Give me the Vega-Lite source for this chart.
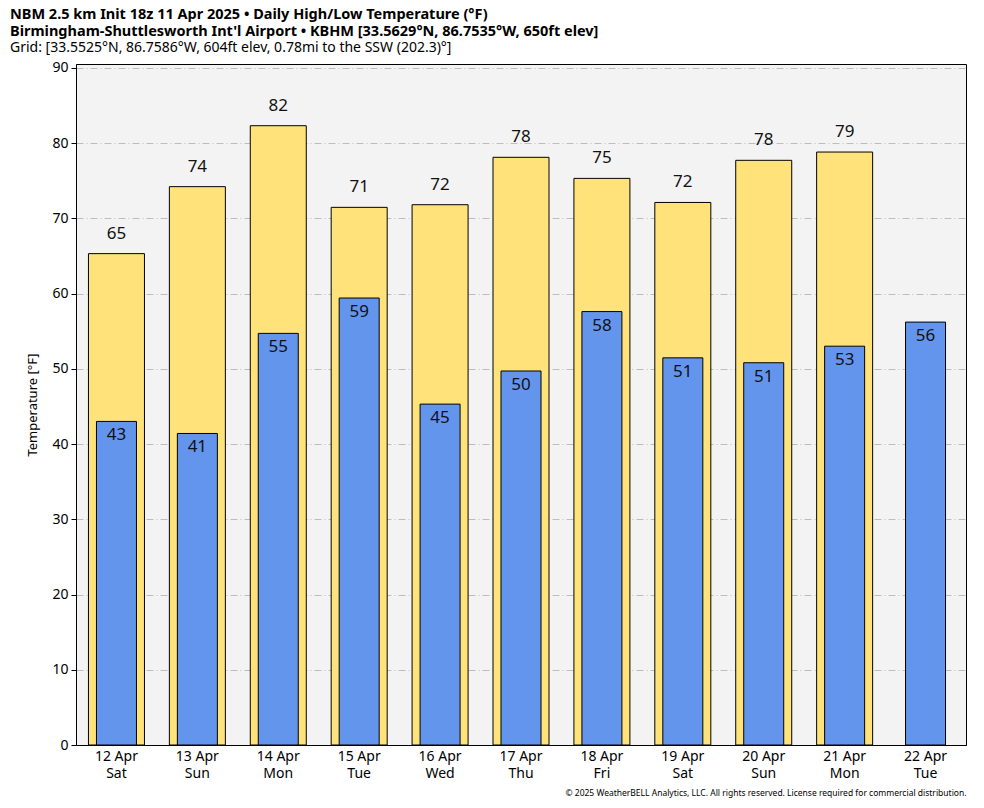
{
  "$schema": "https://vega.github.io/schema/vega-lite/v6.json",
  "autosize": {"type": "none"},
  "padding": {"left": 76, "top": 64, "right": 18, "bottom": 63},
  "width": 890,
  "height": 681,
  "background": "white",
  "title": {
    "text": ["NBM 2.5 km Init 18z 11 Apr 2025 • Daily High/Low Temperature (°F)", "Birmingham-Shuttlesworth Int'l Airport • KBHM [33.5629°N, 86.7535°W, 650ft elev]"],
    "subtitle": "Grid: [33.5525°N, 86.7586°W, 604ft elev, 0.78mi to the SSW (202.3)°]",
    "anchor": "start",
    "frame": "group",
    "dx": -66,
    "offset": 5,
    "font": "Noto Sans",
    "fontSize": 14.5,
    "fontWeight": "bold",
    "lineHeight": 17.5,
    "color": "black",
    "subtitleFont": "Noto Sans",
    "subtitleFontSize": 14,
    "subtitleColor": "black",
    "subtitleLineHeight": 17,
    "subtitlePadding": 1
  },
  "config": {
    "view": {"fill": "#f3f3f3", "stroke": "black", "strokeWidth": 1},
    "font": "Noto Sans"
  },
  "data": {
    "values": [
      {"date": "12 Apr|Sat", "high": 65.3, "low": 43.0},
      {"date": "13 Apr|Sun", "high": 74.2, "low": 41.4},
      {"date": "14 Apr|Mon", "high": 82.3, "low": 54.7},
      {"date": "15 Apr|Tue", "high": 71.45, "low": 59.4},
      {"date": "16 Apr|Wed", "high": 71.8, "low": 45.3},
      {"date": "17 Apr|Thu", "high": 78.1, "low": 49.7},
      {"date": "18 Apr|Fri", "high": 75.3, "low": 57.6},
      {"date": "19 Apr|Sat", "high": 72.1, "low": 51.45},
      {"date": "20 Apr|Sun", "high": 77.7, "low": 50.8},
      {"date": "21 Apr|Mon", "high": 78.8, "low": 53.0},
      {"date": "22 Apr|Tue", "high": null, "low": 56.2}
    ]
  },
  "encoding": {
    "x": {
      "field": "date",
      "type": "nominal",
      "sort": null,
      "scale": {"paddingInner": 0, "paddingOuter": 0},
      "axis": {
        "title": "© 2025 WeatherBELL Analytics, LLC. All rights reserved. License required for commercial distribution.",
        "titleAnchor": "end",
        "titleFontSize": 8.5,
        "titleFontWeight": "normal",
        "titleColor": "black",
        "titlePadding": 8,
        "labelExpr": "split(datum.label, '|')",
        "labelAngle": 0,
        "labelFontSize": 14,
        "labelLineHeight": 17,
        "labelColor": "black",
        "labelPadding": 4,
        "ticks": false,
        "domainColor": "black"
      }
    }
  },
  "layer": [
    {
      "mark": {"type": "bar", "size": 56, "color": "#ffe37a", "stroke": "black", "strokeWidth": 1},
      "encoding": {
        "y": {
          "field": "high",
          "type": "quantitative",
          "scale": {"domain": [0, 90.5], "nice": false, "zero": true},
          "axis": {
            "title": "Temperature [°F]",
            "titleFontSize": 13,
            "titleFontWeight": "normal",
            "titleColor": "black",
            "titlePadding": 12,
            "values": [0, 10, 20, 30, 40, 50, 60, 70, 80, 90],
            "labelFontSize": 14,
            "labelColor": "black",
            "tickColor": "black",
            "tickSize": 5,
            "labelPadding": 3,
            "domainColor": "black",
            "grid": true,
            "gridColor": "#bdbdbd",
            "gridDash": [7, 3, 1, 3],
            "gridWidth": 1
          }
        }
      }
    },
    {
      "mark": {"type": "bar", "size": 40, "color": "#6495ed", "stroke": "black", "strokeWidth": 1},
      "encoding": {
        "y": {"field": "low", "type": "quantitative"}
      }
    },
    {
      "mark": {"type": "text", "fontSize": 17, "dy": -20, "color": "#111111"},
      "encoding": {
        "y": {"field": "high", "type": "quantitative"},
        "text": {"field": "high", "type": "quantitative", "format": ".0f"}
      }
    },
    {
      "mark": {"type": "text", "fontSize": 17, "dy": 14, "color": "#111111"},
      "encoding": {
        "y": {"field": "low", "type": "quantitative"},
        "text": {"field": "low", "type": "quantitative", "format": ".0f"}
      }
    }
  ]
}
